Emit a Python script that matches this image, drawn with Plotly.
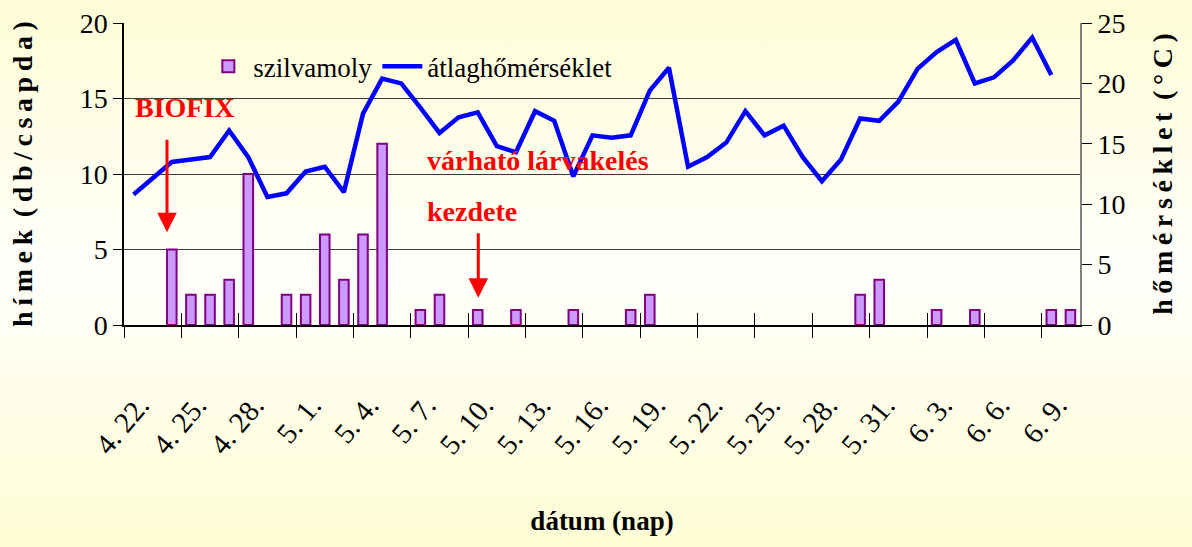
import base64
import plotly.graph_objects as go

# ---------------- data ----------------
dates = (["4. %d." % d for d in range(22, 31)]
         + ["5. %d." % d for d in range(1, 32)]
         + ["6. %d." % d for d in range(1, 11)])

# male moths caught (db/csapda) per day, None = no catch shown
szilvamoly = [None, None, 5, 2, 2, 3, 10, None, 2, 2,
              6, 3, 6, 12, None, 1, 2, None, 1, None,
              1, None, None, 1, None, None, 1, 2, None, None,
              None, None, None, None, None, None, None, None, 2, 3,
              None, None, 1, None, 1, None, None, None, 1, 1]

# daily mean temperature (°C)
atlaghomerseklet = [10.8, 12.1, 13.5, 13.7, 13.9, 16.1, 13.9, 10.6, 10.9, 12.7,
                    13.1, 11.0, 17.5, 20.4, 20.0, 18.0, 15.9, 17.2, 17.6, 14.8,
                    14.3, 17.7, 16.9, 12.3, 15.7, 15.5, 15.7, 19.4, 21.3, 13.1,
                    13.9, 15.1, 17.7, 15.7, 16.5, 13.9, 11.9, 13.7, 17.1, 16.9,
                    18.5, 21.2, 22.6, 23.6, 20.0, 20.5, 21.9, 23.8, 20.7, None]

idx = list(range(len(dates)))
label_idx = idx[::3]
tick_labels = [dates[i] for i in label_idx]
boundary_ticks = [i - 0.5 for i in label_idx]

FONT = "Liberation Serif"

# ---------------- background gradient ----------------
svg = ('<svg xmlns="http://www.w3.org/2000/svg" width="100" height="100" '
       'viewBox="0 0 100 100" preserveAspectRatio="none">'
       '<defs><linearGradient id="g" x1="0" y1="0" x2="0" y2="1">'
       '<stop offset="0" stop-color="#FFFDD6"/>'
       '<stop offset="0.5" stop-color="#FFFFFB"/>'
       '<stop offset="1" stop-color="#FFFDD4"/>'
       '</linearGradient></defs>'
       '<rect width="100" height="100" fill="url(#g)"/></svg>')
svg_uri = "data:image/svg+xml;base64," + base64.b64encode(svg.encode()).decode()

W, H = 1192, 547
ML, MR, MT, MB = 124, 112, 23, 222
PW, PH = W - ML - MR, H - MT - MB

fig = go.Figure()

fig.add_trace(go.Bar(
    x=idx, y=szilvamoly, name="szilvamoly", width=0.5,
    marker=dict(color="#CC99FF", line=dict(color="#800080", width=2)),
    yaxis="y", xaxis="x"))

fig.add_trace(go.Scatter(
    x=idx, y=atlaghomerseklet, name="átlaghőmérséklet", mode="lines",
    line=dict(color="#0000FF", width=4.5), yaxis="y2", xaxis="x"))

# helper traces so the tick-only overlay axes are drawn
fig.add_trace(go.Scatter(x=[], y=[], xaxis="x2", yaxis="y", showlegend=False, hoverinfo="skip"))
fig.add_trace(go.Scatter(x=[], y=[], xaxis="x3", yaxis="y", showlegend=False, hoverinfo="skip"))

xr = [-0.5, len(dates) - 0.5]

fig.update_layout(
    width=W, height=H,
    margin=dict(l=ML, r=MR, t=MT, b=MB, autoexpand=False),
    paper_bgcolor="#FFFEE8",
    plot_bgcolor="rgba(0,0,0,0)",
    font=dict(family=FONT, color="black", size=26),
    bargap=0.5,
    showlegend=True,
    legend=dict(orientation="h", x=0.083, y=0.855, xanchor="left", yanchor="middle",
                bgcolor="rgba(0,0,0,0)", font=dict(family=FONT, size=27),
                itemwidth=40, tracegroupgap=0),
    xaxis=dict(range=xr, tickmode="array", tickvals=label_idx, ticktext=tick_labels,
               tickangle=-50, ticks="outside", ticklen=50, tickcolor="rgba(0,0,0,0)",
               ticklabelshift=6,
               tickfont=dict(family=FONT, size=29), automargin=False,
               showline=True, linecolor="black", linewidth=1.5, showgrid=False,
               zeroline=False,
               title=dict(text="<b>dátum (nap)</b>", font=dict(family=FONT, size=27),
                          standoff=52)),
    xaxis2=dict(range=xr, overlaying="x", anchor="y", side="bottom", tickmode="array",
                tickvals=boundary_ticks, ticks="outside", ticklen=12, tickcolor="black",
                tickwidth=1, showticklabels=False, showgrid=False, showline=False,
                zeroline=False, automargin=False),
    xaxis3=dict(range=xr, overlaying="x", anchor="y", side="bottom", tickmode="array",
                tickvals=boundary_ticks, ticks="inside", ticklen=12, tickcolor="black",
                tickwidth=1, showticklabels=False, showgrid=False, showline=False,
                zeroline=False, automargin=False),
    yaxis=dict(range=[0, 20], tickmode="linear", tick0=0, dtick=5,
               ticks="outside", ticklen=9, tickcolor="black",
               tickfont=dict(family=FONT, size=28), automargin=False,
               showline=True, linecolor="black", linewidth=1.5,
               showgrid=True, gridcolor="#3A3A3A", gridwidth=1, zeroline=False,
               title=dict(text="<b>h\u2009í\u2009m\u2009e\u2009k\u2009 (\u2009d\u2009b\u2009/\u2009c\u2009s\u2009a\u2009p\u2009d\u2009a\u2009)</b>",
                          font=dict(family=FONT, size=28), standoff=39)),
    yaxis2=dict(range=[0, 25], tickmode="linear", tick0=0, dtick=5,
                overlaying="y", side="right", anchor="x",
                ticks="outside", ticklen=10, tickcolor="black",
                tickfont=dict(family=FONT, size=28), automargin=False,
                showline=True, linecolor="#808080", linewidth=2,
                showgrid=False, zeroline=False,
                title=dict(text="<b>h\u2009ő\u2009m\u2009é\u2009r\u2009s\u2009é\u2009k\u2009l\u2009e\u2009t\u2009 (\u2009°\u2009C\u2009)</b>",
                           font=dict(family=FONT, size=28), standoff=28)),
    images=[dict(source=svg_uri, xref="paper", yref="paper",
                 x=-ML / PW, y=1 + MT / PH, sizex=W / PW, sizey=H / PH,
                 xanchor="left", yanchor="top", sizing="stretch", layer="below")],
)

red = dict(family=FONT, size=28, color="#FF0000")
fig.add_annotation(x=-0.05, y=14.4, xref="x", yref="y", text="<b>BIOFIX</b>",
                   showarrow=False, xanchor="left", yanchor="middle", font=red)
fig.add_annotation(x=15.25, y=10.9, xref="x", yref="y", text="<b>várható lárvakelés</b>",
                   showarrow=False, xanchor="left", yanchor="middle", font=red)
fig.add_annotation(x=15.25, y=7.5, xref="x", yref="y", text="<b>kezdete</b>",
                   showarrow=False, xanchor="left", yanchor="middle", font=red)
fig.add_annotation(x=1.75, y=6.15, xref="x", yref="y", ax=0, ay=-94, text="",
                   showarrow=True, arrowhead=2, arrowsize=1.3, arrowwidth=3,
                   arrowcolor="#FF0000")
fig.add_annotation(x=18.03, y=1.8, xref="x", yref="y", ax=0, ay=-66, text="",
                   showarrow=True, arrowhead=2, arrowsize=1.3, arrowwidth=3,
                   arrowcolor="#FF0000")

fig.write_html("out.html", config={"displayModeBar": False},
               post_script="document.body.style.margin='0';document.body.style.overflow='hidden';")
